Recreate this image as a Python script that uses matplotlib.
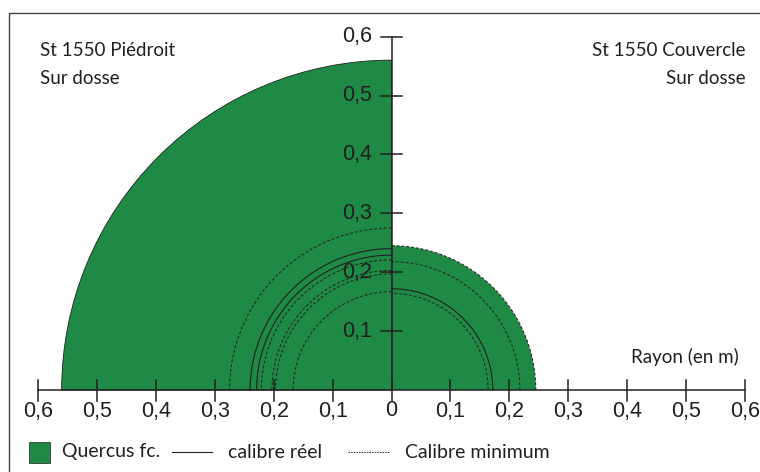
import numpy as np
import matplotlib.pyplot as plt
from matplotlib.patches import Wedge, Rectangle
from matplotlib.lines import Line2D

# rayons (m)
r_piedroit = 0.56
r_couvercle = 0.245
arcs_gauche_reel = [0.24, 0.229]
arcs_gauche_min = [0.275, 0.221, 0.203, 0.197, 0.167]
arcs_droite_reel = [0.172]
arcs_droite_min = [0.218, 0.164]
graduations = [0.1, 0.2, 0.3, 0.4, 0.5, 0.6]
etiquettes = ['0,1', '0,2', '0,3', '0,4', '0,5', '0,6']

vert = '#1e8a45'
noir = '#231f20'
W, H = 760, 472
x0, y0, k = 391.5, 390, 589.0   # origine et échelle en pixels


def px(x, y):
    """pixels (depuis le haut-gauche) -> coordonnées données"""
    return (x - x0) / k, (y0 - y) / k


fig = plt.figure(figsize=(W / 100, H / 100), dpi=100)
ax = fig.add_axes([0, 0, 1, 1])
ax.set_xlim(-x0 / k, (W - x0) / k)
ax.set_ylim(-(H - y0) / k, y0 / k)
ax.axis('off')

police = 'Lato'
police_chiffres = 'Liberation Sans'
taille_chiffres = 15.5

# surfaces
ax.add_patch(Wedge((0, 0), r_piedroit, 90, 180, facecolor=vert,
                   edgecolor=noir, linewidth=0.6))
ax.add_patch(Wedge((0, 0), r_couvercle, 0, 90, facecolor=vert,
                   edgecolor='none'))
t = np.linspace(0, np.pi / 2, 200)
ax.plot(r_couvercle * np.cos(t), r_couvercle * np.sin(t), color=noir,
        lw=0.7, ls=(0, (3, 2)))

# arcs
tg = np.linspace(np.pi / 2, np.pi, 200)
for r in arcs_gauche_reel:
    ax.plot(r * np.cos(tg), r * np.sin(tg), color=noir, lw=0.8)
for r in arcs_gauche_min:
    ax.plot(r * np.cos(tg), r * np.sin(tg), color=noir, lw=0.7, ls=(0, (3, 2)))
for r in arcs_droite_reel:
    ax.plot(r * np.cos(t), r * np.sin(t), color=noir, lw=0.8)
for r in arcs_droite_min:
    ax.plot(r * np.cos(t), r * np.sin(t), color=noir, lw=0.7, ls=(0, (3, 2)))

# axes
tick = 10.5 / k
ax.plot([-0.6, 0.6], [0, 0], color=noir, lw=1.1)
ax.plot([0, 0], [0, 0.6], color=noir, lw=1.1)
for v in [-0.6, -0.5, -0.4, -0.3, -0.2, -0.1, 0, 0.1, 0.2, 0.3, 0.4, 0.5, 0.6]:
    ax.plot([v, v], [-tick, tick], color=noir, lw=1.1)
for v in graduations:
    ax.plot([-tick, tick], [v, v], color=noir, lw=1.1)

# étiquettes des axes
ylab = px(0, 411)[1]
ax.text(0, ylab, '0', ha='center', va='center', fontsize=taille_chiffres,
        family=police_chiffres, color=noir)
for v, s in zip(graduations, etiquettes):
    ax.text(-v, ylab, s, ha='center', va='center', fontsize=taille_chiffres,
            family=police_chiffres, color=noir)
    ax.text(v, ylab, s, ha='center', va='center', fontsize=taille_chiffres,
            family=police_chiffres, color=noir)
    ax.text(px(372, 0)[0], v, s, ha='right', va='center',
            fontsize=taille_chiffres, family=police_chiffres, color=noir)

# titres
ax.text(*px(40, 50), 'St 1550 Piédroit', ha='left', va='center',
        fontsize=13.5, family=police, color=noir)
ax.text(*px(40, 78), 'Sur dosse', ha='left', va='center',
        fontsize=13.5, family=police, color=noir)
ax.text(*px(746, 50), 'St 1550 Couvercle', ha='right', va='center',
        fontsize=13.5, family=police, color=noir)
ax.text(*px(746, 78), 'Sur dosse', ha='right', va='center',
        fontsize=13.5, family=police, color=noir)
ax.text(*px(739, 357), 'Rayon (en m)', ha='right', va='center',
        fontsize=13.5, family=police, color=noir)

# légende
ax.add_patch(Rectangle(px(29, 463), 21 / k, 21 / k, facecolor=vert,
                       edgecolor=noir, lw=0.5))
ax.text(*px(62, 452), 'Quercus fc.', ha='left', va='center',
        fontsize=14, family=police, color=noir)
ax.add_line(Line2D(*zip(px(172, 452), px(212, 452)), color=noir, lw=0.8))
ax.text(*px(228, 452), 'calibre réel', ha='left', va='center',
        fontsize=14, family=police, color=noir)
ax.add_line(Line2D(*zip(px(348, 452), px(390, 452)), color=noir, lw=0.7,
                   ls=(0, (1.5, 1.2))))
ax.text(*px(405, 452), 'Calibre minimum', ha='left', va='center',
        fontsize=14, family=police, color=noir)

# cadre
ax.add_line(Line2D(*zip(px(9, H), px(9, 13), px(W, 13)), color='#444444',
                   lw=1.0))

fig.savefig('out.png', dpi=100)
